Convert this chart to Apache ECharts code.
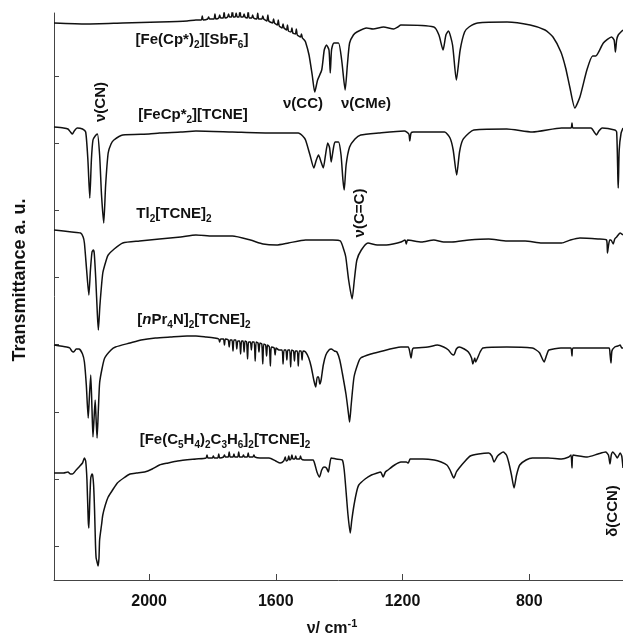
<!DOCTYPE html>
<html>
<head>
<meta charset="utf-8">
<title>IR spectra</title>
<script src="https://cdn.jsdelivr.net/npm/echarts@6.0.0/dist/echarts.min.js"></script>
<style>
  html, body { margin: 0; padding: 0; background: #fff; }
  #chart { width: 623px; height: 639px; }
</style>
</head>
<body>
<div id="chart"></div>
<script>
// wavenumber (cm-1), transmittance (a.u., traces stacked top to bottom)
var sbf6 = [
  [2300,557],[2198,556],[2083,557],[1967,558],[1880,559],[1852,560],
  [1835,560],[1832,564],[1829,560],[1815,561],[1812,563],[1809,561],[1795,561],[1792,566],[1789,561],
  [1780,562],[1777,565],[1774,562],[1766,562],[1763,568],[1760,562],[1752,563],[1749,566],[1746,563],
  [1740,563],[1737,570],[1734,563],[1728,563],[1725,567],[1722,563],[1716,563],[1713,571],[1710,563],
  [1703,563],[1700,566],[1697,563],[1690,562],[1687,569],[1684,562],[1676,562],[1673,565],[1670,562],
  [1660,561],[1657,567],[1654,561],[1644,561],[1641,564],[1638,561],[1628,559],[1625,565],[1622,559],
  [1610,557],[1607,561],[1604,557],[1595,555],[1592,560],[1589,554],[1580,552],[1577,556],[1574,552],
  [1566,550],[1563,555],[1560,549],[1552,548],[1549,552],[1546,547],[1538,546],[1535,551],[1532,545],
  [1522,543],[1519,546],[1516,542],[1510,540],
  [1506,538],[1495,525],[1485,505],[1477,488],[1468,500],[1455,510],[1447,530],[1440,535],[1432,530],
  [1428,507],[1424,530],[1417,537],[1402,537],[1392,520],[1381,490],[1374,515],[1367,537],[1355,545],
  [1344,548],[1313,552],[1293,551],[1260,553],[1228,551],[1215,553],[1205,555],[1101,553],[1085,545],
  [1072,530],[1063,545],[1055,549],[1042,535],[1030,500],[1018,530],[1004,548],[990,553],[963,557],
  [870,558],[797,555],[750,550],[725,543],[700,528],[685,512],[672,493],[656,472],[640,483],[618,510],
  [600,524],[590,524],[566,537],[540,543],[532,540],[528,528],[524,540],[519,545],[504,550]
];
var fecpTcne = [
  [2300,453],[2270,452],[2256,451],[2248,448],[2242,446],[2236,449],[2227,452],[2210,451],[2200,448],
  [2193,420],[2187,382],[2182,420],[2177,440],[2170,444],[2163,446],[2156,425],[2150,385],[2143,357],
  [2137,395],[2129,427],[2120,436],[2111,440],[2083,445],[2000,446],[1967,447],[1900,448],[1852,449],
  [1737,448],[1621,447],[1529,447],[1515,444],[1506,440],[1492,425],[1480,412],[1472,420],[1465,425],
  [1457,418],[1450,412],[1443,425],[1436,437],[1430,432],[1425,418],[1419,430],[1413,438],[1402,438],
  [1394,425],[1388,400],[1384,390],[1378,415],[1367,433],[1350,441],[1332,445],[1275,447],[1194,449],
  [1180,446],[1177,439],[1173,447],[1165,448],[1067,448],[1050,442],[1040,430],[1029,405],[1020,428],
  [1010,440],[990,447],[975,450],[871,451],[790,448],[698,452],[668,452],[665,457],[662,452],[605,452],
  [595,448],[588,445],[580,449],[570,452],[530,450],[524,448],[520,400],[519,392],[516,430],[510,447],
  [504,452]
];
var tlTcne = [
  [2300,350],[2270,349],[2244,348],[2216,347],[2208,343],[2204,337],[2197,310],[2190,285],[2185,310],
  [2180,328],[2176,330],[2173,327],[2168,300],[2163,265],[2160,250],[2155,275],[2146,307],[2135,320],
  [2129,325],[2110,331],[2083,337],[2030,339],[1967,341],[1900,343],[1852,345],[1800,344],[1737,344],
  [1680,340],[1640,336],[1598,335],[1560,337],[1506,340],[1420,340],[1396,339],[1385,330],[1379,323],
  [1370,300],[1359,281],[1352,300],[1344,320],[1330,330],[1309,337],[1280,335],[1251,335],[1230,336],
  [1205,338],[1192,340],[1188,336],[1184,340],[1140,338],[1101,340],[1070,338],[1044,338],[990,340],
  [928,341],[870,339],[813,339],[760,337],[698,337],[670,340],[640,342],[583,341],[556,340],[553,327],
  [550,334],[546,340],[542,340],[535,336],[530,341],[524,343],[513,347],[504,345]
];
var npr4nTcne = [
  [2300,235],[2260,233],[2250,232],[2244,229],[2238,228],[2230,231],[2221,231],[2210,226],[2204,218],
  [2198,195],[2192,162],[2188,185],[2184,205],[2180,170],[2177,143],[2173,165],[2170,180],[2167,160],
  [2164,142],[2160,170],[2156,197],[2148,212],[2140,222],[2120,230],[2106,233],[2060,237],[2025,240],
  [1980,242],[1933,243],[1880,244],[1852,244],[1820,243],[1794,242],
  [1780,241],[1777,238],[1774,241],[1765,241],[1762,235],[1759,241],[1750,240],[1747,233],[1744,240],
  [1738,240],[1735,229],[1732,240],[1726,240],[1723,231],[1720,239],[1714,239],[1711,226],[1708,239],
  [1703,239],[1700,228],[1697,239],[1692,238],[1689,221],[1686,238],[1680,238],[1677,230],[1674,238],
  [1668,238],[1665,219],[1662,238],[1656,237],[1653,228],[1650,237],[1644,236],[1641,216],[1638,236],
  [1632,235],[1629,224],[1626,235],[1620,233],[1617,214],[1614,233],[1605,232],[1602,225],[1599,232],
  [1590,230],[1580,230],[1577,216],[1574,230],[1568,230],[1565,220],[1562,230],[1556,230],[1553,213],
  [1550,230],[1544,229],[1541,219],[1538,229],[1532,229],[1529,214],[1526,229],[1520,229],[1517,220],
  [1514,229],[1506,228],
  [1496,222],[1488,213],[1480,200],[1474,193],[1469,203],[1465,203],[1461,196],[1457,200],[1450,215],
  [1442,225],[1432,230],[1425,231],[1415,229],[1407,228],[1398,220],[1390,207],[1378,185],[1370,165],
  [1367,158],[1362,175],[1353,203],[1340,217],[1332,222],[1300,226],[1275,228],[1205,233],[1182,233],
  [1177,228],[1173,222],[1169,230],[1165,232],[1120,233],[1090,235],[1070,233],[1055,230],[1045,226],
  [1038,225],[1030,231],[1021,233],[1005,231],[992,228],[982,222],[978,216],[972,222],[969,218],
  [963,222],[955,228],[946,232],[871,233],[790,232],[778,230],[767,227],[753,218],[745,225],[738,230],
  [700,232],[675,232],[668,232],[665,224],[662,232],[620,232],[583,232],[548,232],[545,226],[542,217],
  [539,229],[530,233],[520,234],[513,235],[508,232],[504,232]
];
var ferrTcne = [
  [2300,107],[2270,107],[2256,108],[2248,106],[2242,106],[2230,110],[2221,113],[2210,117],[2204,122],
  [2200,119],[2196,100],[2192,60],[2190,52],[2187,80],[2184,102],[2180,106],[2178,105],[2175,95],
  [2172,70],[2169,35],[2167,22],[2164,18],[2161,14],[2158,22],[2156,40],[2150,55],[2146,65],[2138,75],
  [2129,83],[2115,90],[2100,97],[2080,102],[2060,106],[2040,107],[2014,108],[1990,111],[1967,115],
  [1940,117],[1910,119],[1852,121],
  [1820,122],[1817,125],[1814,122],[1800,122],[1797,124],[1794,122],[1783,122],[1780,126],[1777,122],
  [1765,123],[1762,125],[1759,123],[1750,123],[1747,128],[1744,123],[1735,123],[1732,126],[1729,123],
  [1720,123],[1717,128],[1714,123],[1705,123],[1702,125],[1699,123],[1690,123],[1687,127],[1684,123],
  [1672,123],[1669,125],[1666,123],[1650,122],[1621,122],[1600,119],[1586,117],[1575,119],[1570,123],
  [1567,119],[1562,120],[1559,124],[1556,120],[1552,121],[1549,125],[1546,121],[1540,121],[1537,124],
  [1534,121],[1525,121],[1522,124],[1519,121],[1510,120],
  [1495,120],[1482,120],[1476,115],[1470,108],[1462,103],[1455,110],[1448,113],[1440,112],[1434,108],
  [1430,115],[1425,122],[1410,121],[1390,120],[1384,110],[1379,92],[1372,65],[1365,47],[1360,60],
  [1353,75],[1345,88],[1338,95],[1318,101],[1298,105],[1280,107],[1269,108],[1261,103],[1254,108],
  [1246,110],[1225,115],[1205,118],[1188,118],[1182,117],[1176,121],[1173,121],[1136,121],[1100,120],
  [1078,118],[1060,115],[1050,110],[1038,102],[1030,108],[1021,112],[1005,118],[986,124],[960,126],
  [928,127],[918,124],[911,118],[900,124],[882,128],[872,125],[865,118],[856,105],[848,92],[840,105],
  [830,115],[810,120],[790,122],[740,122],[698,121],[675,123],[668,125],[665,112],[662,125],[617,123],
  [583,126],[559,128],[550,125],[545,116],[541,125],[536,128],[528,125],[522,122],[513,127],[508,124],
  [504,112]
];
var xTicks = [2000, 1600, 1200, 800];
var yTicks = [34, 101, 168, 236, 303, 370, 437, 504];

var FAM = '"Liberation Sans", Arial, Helvetica, sans-serif';

function rich(size) {
  return {
    s: { fontSize: Math.round(size * 0.68), fontWeight: 'bold', fontFamily: FAM, fill: '#111', padding: [10, 0, 0, 0] },
    p: { fontSize: Math.round(size * 0.68), fontWeight: 'bold', fontFamily: FAM, fill: '#111', padding: [0, 0, 10, 0] },
    i: { fontSize: size, fontWeight: 'bold', fontStyle: 'italic', fontFamily: FAM, fill: '#111' }
  };
}

function label(text, x, y, size, rot) {
  return {
    type: 'text', x: x, y: y, rotation: rot || 0, silent: true,
    style: {
      text: text, fill: '#111', fontSize: size, fontWeight: 'bold', fontFamily: FAM,
      align: 'center', verticalAlign: 'middle', rich: rich(size)
    }
  };
}

function trace(data) {
  return {
    type: 'line', data: data, showSymbol: false, smooth: 0.2, silent: true,
    lineStyle: { color: '#111', width: 1.5, join: 'round' }
  };
}

var chart = echarts.init(document.getElementById('chart'));
chart.setOption({
  animation: false,
  backgroundColor: '#fff',
  grid: { left: 54, right: 0, top: 13, bottom: 59 },
  xAxis: {
    type: 'value', inverse: true, min: 504, max: 2300,
    axisLine: { lineStyle: { color: '#444', width: 1 } },
    axisTick: { customValues: xTicks, inside: true, length: 6, lineStyle: { color: '#444' } },
    axisLabel: {
      customValues: xTicks, color: '#111', fontSize: 16, fontWeight: 'bold', fontFamily: FAM, margin: 14,
      formatter: function (v) { return String(v); }
    },
    splitLine: { show: false }
  },
  yAxis: {
    type: 'value', min: 0, max: 567,
    axisLine: { show: true, lineStyle: { color: '#444', width: 1 } },
    axisTick: { show: true, customValues: yTicks, inside: true, length: 5, lineStyle: { color: '#444' } },
    axisLabel: { show: false },
    splitLine: { show: false }
  },
  series: [trace(sbf6), trace(fecpTcne), trace(tlTcne), trace(npr4nTcne), trace(ferrTcne)],
  graphic: [
    label('[Fe(Cp*){s|2}][SbF{s|6}]', 192, 40, 15),
    label('ν(CN)', 101, 102, 15, Math.PI / 2),
    label('[FeCp*{s|2}][TCNE]', 193, 115, 15),
    label('ν(CC)', 303, 104, 15),
    label('ν(CMe)', 366, 104, 15),
    label('Tl{s|2}[TCNE]{s|2}', 174, 214, 15),
    label('ν(C=C)', 360, 213, 15, Math.PI / 2),
    label('[{i|n}Pr{s|4}N]{s|2}[TCNE]{s|2}', 194, 320, 15),
    label('[Fe(C{s|5}H{s|4}){s|2}C{s|3}H{s|6}]{s|2}[TCNE]{s|2}', 225, 440, 15),
    label('δ(CCN)', 613, 511, 15, Math.PI / 2),
    label('Transmittance a. u.', 20, 280, 18, Math.PI / 2),
    label('ν/ cm{p|-1}', 332, 629, 16)
  ]
});
</script>
</body>
</html>
